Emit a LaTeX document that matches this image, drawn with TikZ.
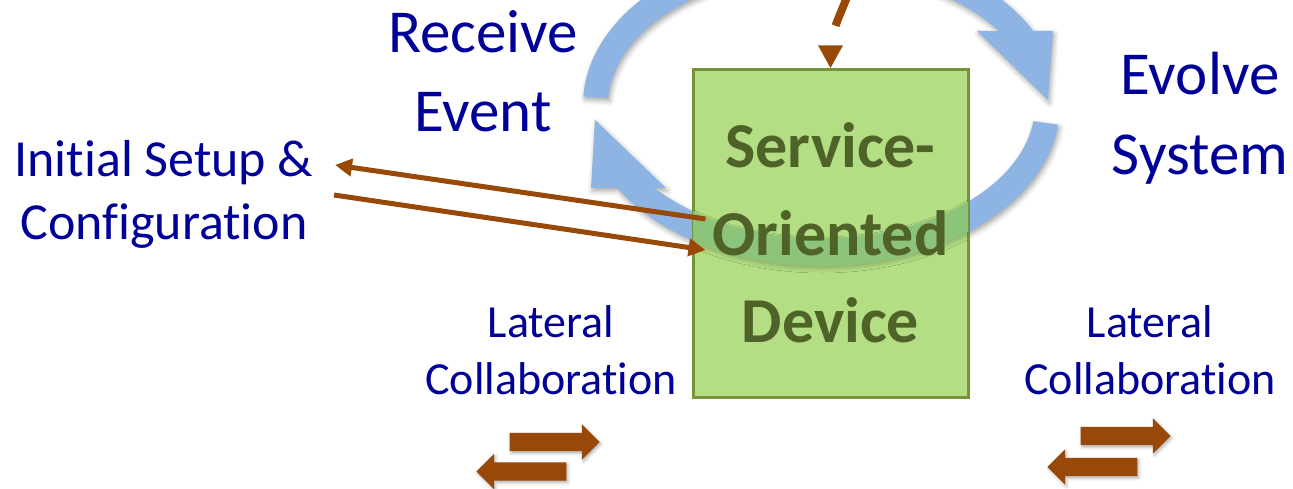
\documentclass[tikz,border=0pt]{standalone}
\usepackage{fontspec}
\setmainfont{Carlito}[Ligatures=NoCommon]
\usetikzlibrary{arrows.meta,calc,shapes.arrows,shadows.blur}

\definecolor{ringblue}{RGB}{141,180,227}
\definecolor{boxgreen}{RGB}{179,222,132}
\definecolor{bandgreen}{RGB}{140,196,122}
\definecolor{boxrim}{RGB}{118,146,60}
\definecolor{boxink}{RGB}{79,98,40}
\definecolor{rust}{RGB}{152,72,7}
\definecolor{navy}{RGB}{0,0,153}

% several centred lines, baseline on the first line
\newcommand\stacklines[1]{\begin{tabular}[t]{@{}c@{}}#1\end{tabular}}

% lower half of the cycle ring, ending in the up-pointing head on the left
\newcommand\lowerring{%
  ($(C)+(-7:238.5 and 161)$)
  arc[start angle=-7, end angle=-148.97, x radius=238.5, y radius=161]
  -- (591,301) -- (595,369) -- (666,301)
  -- ($(C)+(-141.4:213.5 and 133)$)
  arc[start angle=-141.4, end angle=-7, x radius=213.5, y radius=133]
  -- cycle}

\begin{document}
\begin{tikzpicture}[x=1pt,y=1pt,
  ringshade/.style={blur shadow={shadow xshift=1.5pt, shadow yshift=-3pt,
      shadow blur radius=5pt, shadow opacity=35}},
  label/.style={text=navy, inner sep=0pt, anchor=base},
  devicebox/.style={draw=boxrim, line width=3pt, fill=boxgreen,
      minimum width=275pt, minimum height=328pt, inner sep=0pt},
  devicetext/.style={text=boxink, inner sep=0pt, anchor=base,
      font=\bfseries\fontsize{64}{87.5}\selectfont},
  link/.style={draw=rust, line width=5pt,
      -{Triangle[length=17pt,width=17pt]}},
  trigger/.style={draw=rust, line width=8pt, dash pattern=on 44pt off 30pt,
      -{Triangle[length=23pt,width=23pt]}},
  lateral/.style={single arrow, fill=rust, minimum height=90pt,
      text height=0pt, text depth=0pt, text width=0pt,
      inner xsep=0pt, inner ysep=9pt, single arrow head extend=8.5pt,
      single arrow head indent=0pt,
      blur shadow={shadow xshift=1.5pt, shadow yshift=-2pt,
      shadow blur radius=3pt, shadow opacity=30}},
]
\useasboundingbox (0,0) rectangle (1293,489);
\clip (0,0) rectangle (1293,489);

\coordinate (C) at (821.5,384);

% cycle ring: upper half with the down-pointing head on the right
\fill[ringblue, ringshade]
  ($(C)+(177:238.5 and 161)$)
  arc[start angle=177, end angle=27.4, x radius=238.5, y radius=161]
  -- (1053,458) -- (1048,389) -- (977,458)
  -- ($(C)+(33.8:213.5 and 133)$)
  arc[start angle=33.8, end angle=177, x radius=213.5, y radius=133]
  -- cycle;
% cycle ring: lower half
\fill[ringblue, ringshade] \lowerring;

% the device
\node[devicebox] (box) at (830.5,255) {};
\begin{scope}
  \clip ($(box.south west)+(1.5,1.5)$) rectangle ($(box.north east)+(-1.5,-1.5)$);
  \fill[bandgreen, blur shadow={shadow xshift=0pt, shadow yshift=-3pt,
      shadow blur radius=4pt, shadow opacity=20}] \lowerring;
\end{scope}
\node[devicetext] (devtext) at (830.5,321) {\stacklines{Service-\\Oriented\\Device}};

% labels
\node[label, font=\fontsize{61}{79}\selectfont] (receive) at (483,436)
  {\stacklines{Receive\\Event}};
\node[label, font=\fontsize{61}{80}\selectfont] (evolve) at (1200,394)
  {\stacklines{Evolve\\System}};
\node[label, font=\fontsize{52}{63}\selectfont] (setup) at (164,312)
  {\stacklines{Initial Setup \&\\Configuration}};
\node[label, font=\fontsize{46}{57}\selectfont] (latleft) at (551,151)
  {\stacklines{Lateral\\Collaboration}};
\node[label, font=\fontsize{46}{57}\selectfont] (latright) at (1150,151)
  {\stacklines{Lateral\\Collaboration}};

% setup and configuration exchange
\coordinate (boxA) at ($(box.west)+(14,15)$);
\coordinate (boxB) at ($(box.west)+(14,-16)$);
\coordinate (cfgA) at (335,324);
\coordinate (cfgB) at (334,294);
\draw[link] (boxA) -- (cfgA);
\draw[link] (cfgB) -- (boxB);

% incoming event from above
\coordinate (evsrc) at (852,504);
\draw[trigger] (evsrc) to[out=-112,in=90] (box.north);

% lateral collaboration arrows
\node[lateral] (lr1) at (550,47) {};
\node[lateral, shape border rotate=180] (ll1) at (526,17.5) {};
\node[lateral] (lr2) at (1121,53) {};
\node[lateral, shape border rotate=180] (ll2) at (1097,22) {};
\end{tikzpicture}
\end{document}
